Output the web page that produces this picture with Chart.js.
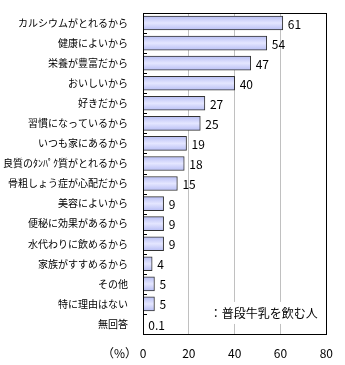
<!DOCTYPE html>
<html>
<head>
<meta charset="utf-8">
<script src="https://cdn.jsdelivr.net/npm/chart.js@4/dist/chart.umd.min.js"></script>
<style>
  html, body { margin: 0; padding: 0; background: #fff; }
  #wrap { width: 345px; height: 365px; position: relative; }
</style>
</head>
<body>
<div id="wrap"><canvas id="reasonChart"></canvas></div>
<script>
// ── データ ──
const reasons = [
    'カルシウムがとれるから', '健康によいから', '栄養が豊富だから', 'おいしいから',
    '好きだから', '習慣になっているから', 'いつも家にあるから', '良質のﾀﾝﾊﾟｸ質がとれるから',
    '骨粗しょう症が心配だから', '美容によいから', '便秘に効果があるから', '水代わりに飲めるから',
    '家族がすすめるから', 'その他', '特に理由はない', '無回答'
];
const percents = [61, 54, 47, 40, 27, 25, 19, 18, 15, 9, 9, 9, 4, 5, 5, 0.1];
const xTicks = [0, 20, 40, 60, 80];
const seriesName = '：普段牛乳を飲む人';
const unitLabel = '（%）';

const FONT = '"Noto Sans CJK JP", "Noto Sans", sans-serif';

// ── プラグイン: 枠、値ラベル、内側の目盛り、凡例、単位 ──
const extrasPlugin = {
    id: 'extras',
    afterDatasetsDraw(chart) {
        const { ctx, chartArea, scales } = chart;
        const meta = chart.getDatasetMeta(0);
        ctx.save();

        // 値ラベル
        ctx.font = '12px ' + FONT;
        ctx.fillStyle = '#000';
        ctx.textBaseline = 'middle';
        ctx.textAlign = 'left';
        meta.data.forEach((bar, i) => {
            ctx.fillText(String(percents[i]), bar.x + 5, bar.y + 1);
        });

        // y軸の内向き目盛り
        ctx.strokeStyle = '#000';
        ctx.lineWidth = 1;
        const y = scales.y;
        for (let i = 1; i < reasons.length; i++) {
            const py = Math.round((y.getPixelForValue(i - 1) + y.getPixelForValue(i)) / 2) + 0.5;
            ctx.beginPath();
            ctx.moveTo(chartArea.left, py);
            ctx.lineTo(chartArea.left + 4, py);
            ctx.stroke();
        }

        // 凡例
        ctx.font = '12px ' + FONT;
        const tw = ctx.measureText(seriesName).width;
        const lx = scales.x.getPixelForValue(30) - 2;
        const ly = y.getPixelForValue(14.5) - 1;
        ctx.fillStyle = '#fff';
        ctx.fillRect(lx - 3, ly - 11, tw + 6, 22);
        ctx.fillStyle = '#000';
        ctx.fillText(seriesName, lx, ly);

        // 外枠
        ctx.strokeStyle = '#000';
        ctx.strokeRect(Math.round(chartArea.left) + 0.5, Math.round(chartArea.top) + 0.5,
            Math.round(chartArea.right - chartArea.left), Math.round(chartArea.bottom - chartArea.top));

        // 単位
        ctx.textAlign = 'right';
        ctx.fillText(unitLabel, chartArea.left - 6, scales.x.bottom - 12);
        ctx.restore();
    }
};

const barGradient = (context) => {
    const chart = context.chart;
    const { chartArea } = chart;
    if (!chartArea) return '#c8ccf8';
    const yScale = chart.scales.y;
    const cy = yScale.getPixelForValue(context.dataIndex);
    const g = chart.ctx.createLinearGradient(0, cy - 7, 0, cy + 7);
    g.addColorStop(0, '#b8bef4');
    g.addColorStop(0.5, '#e4e6ff');
    g.addColorStop(1, '#b8bef4');
    return g;
};

const canvas = document.getElementById('reasonChart');
new Chart(canvas.getContext('2d'), {
    type: 'bar',
    data: {
        labels: reasons,
        datasets: [{
            label: seriesName,
            data: percents,
            backgroundColor: barGradient,
            borderColor: '#333',
            borderWidth: 1,
            borderSkipped: 'start',
            barThickness: 14
        }]
    },
    options: {
        indexAxis: 'y',
        responsive: true,
        maintainAspectRatio: false,
        animation: false,
        layout: { padding: { top: 9, right: 12, left: 0, bottom: 0 } },
        plugins: {
            legend: { display: false },
            tooltip: { enabled: false }
        },
        scales: {
            x: {
                min: 0,
                max: 80,
                afterBuildTicks: (axis) => { axis.ticks = xTicks.map(v => ({ value: v })); },
                grid: { color: '#c0c0c0', drawTicks: false },
                border: { color: '#000', width: 1 },
                ticks: { color: '#000', padding: 12, font: { family: FONT, size: 12 } },
                afterFit: (axis) => { axis.height = 31; }
            },
            y: {
                grid: { display: false },
                border: { color: '#000', width: 1 },
                ticks: { color: '#000', padding: 7, font: { family: FONT, size: 10 } },
                afterFit: (axis) => { axis.width = 143; }
            }
        }
    },
    plugins: [extrasPlugin]
});
</script>
</body>
</html>
